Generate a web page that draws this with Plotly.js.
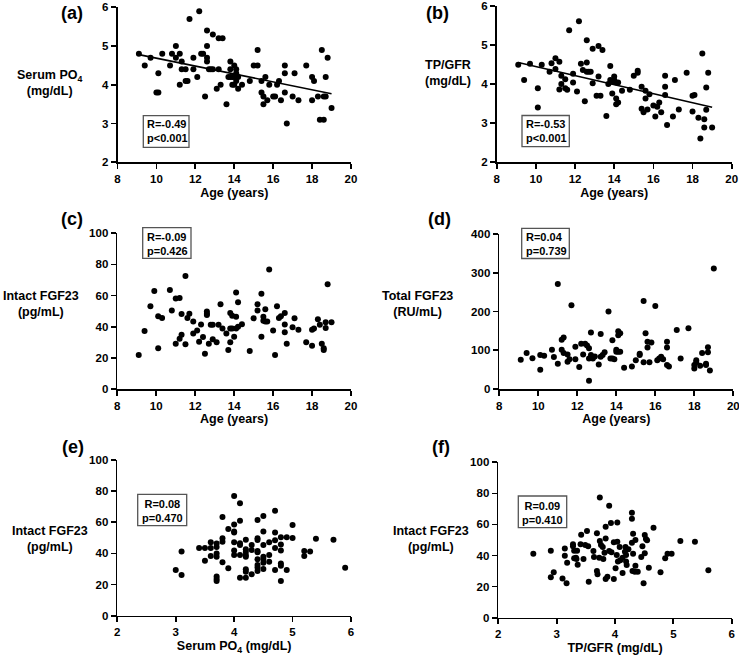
<!DOCTYPE html>
<html>
<head>
<meta charset="utf-8">
<script src="https://cdn.plot.ly/plotly-3.0.1.min.js"></script>
<style>html,body{margin:0;padding:0;background:#fff;}#chart{width:739px;height:656px;}</style>
</head>
<body>
<div id="chart"></div>
<script>
// ---- Data ----
const ageA = [9.1,9.4,9.7,10.0,10.1,10.1,10.3,10.7,10.8,11.0,11.0,11.2,11.2,11.3,11.3,11.5,11.5,11.6,11.7,11.9,11.9,12.1,12.2,12.3,12.4,12.5,12.6,12.6,12.6,12.6,12.7,12.8,12.9,12.9,13.1,13.2,13.2,13.3,13.4,13.6,13.7,13.8,13.8,13.8,13.9,13.9,14.0,14.0,14.0,14.1,14.1,14.1,14.2,14.2,14.4,14.8,15.0,15.2,15.2,15.4,15.4,15.5,15.5,15.6,15.7,15.8,16.0,16.1,16.2,16.3,16.4,16.6,16.6,16.6,16.7,17.0,17.1,17.3,17.7,18.0,18.0,18.1,18.3,18.4,18.5,18.6,18.6,18.7,18.7,18.8,19.0];
const po4A = [4.8,4.5,4.7,3.8,3.8,4.3,4.8,4.5,4.8,5.0,4.7,4.8,4.0,4.6,4.4,4.4,4.1,4.1,5.7,4.7,4.4,4.2,5.9,4.8,4.8,3.7,5.4,5.0,4.7,4.6,4.4,4.4,5.3,4.4,3.9,5.2,4.4,4.0,5.2,3.5,4.2,4.6,4.4,4.2,4.0,4.2,4.5,4.2,4.0,4.4,4.1,4.3,4.2,3.9,4.0,4.1,4.5,4.9,4.5,4.1,3.8,3.7,3.5,4.2,3.6,4.0,3.7,3.7,4.0,4.1,3.6,4.5,4.3,3.8,3.0,3.7,4.3,3.6,4.5,4.2,3.6,4.1,3.7,3.1,4.9,3.1,3.7,3.7,4.2,4.7,3.4];

const ageB = [9.1,9.4,9.7,10.1,10.1,10.3,10.7,10.8,11.0,11.0,11.2,11.2,11.3,11.3,11.5,11.5,11.6,11.7,11.9,11.9,12.1,12.2,12.3,12.4,12.5,12.6,12.6,12.6,12.7,12.8,12.9,12.9,13.1,13.2,13.2,13.3,13.4,13.6,13.7,13.8,13.8,13.9,13.9,14.0,14.0,14.1,14.1,14.1,14.2,14.2,14.4,14.8,15.0,15.2,15.2,15.4,15.4,15.5,15.6,15.6,15.7,15.8,16.0,16.1,16.2,16.3,16.4,16.6,16.6,16.6,16.7,17.0,17.1,17.3,17.7,18.0,18.0,18.1,18.3,18.4,18.5,18.6,18.6,18.7,18.7,18.8,19.0];
const tpB = [4.49,4.10,4.52,3.89,3.40,4.49,4.31,4.53,4.66,4.38,4.57,3.86,4.21,4.00,4.12,3.89,3.85,5.37,4.04,4.26,3.81,5.60,4.52,4.36,3.56,5.12,4.55,4.31,4.31,4.31,4.90,4.02,3.70,4.97,4.19,3.70,4.87,3.18,4.00,4.46,4.10,3.76,4.06,4.19,4.10,3.63,3.48,4.04,3.53,4.04,3.83,3.85,4.21,4.34,4.29,3.93,3.37,3.28,3.83,3.63,3.35,3.74,3.45,3.17,3.42,3.53,3.28,4.21,3.93,3.72,2.95,3.17,4.10,3.35,4.29,3.30,3.70,3.72,3.14,2.61,4.78,3.10,2.89,3.34,3.91,4.29,2.89];

const ageC = [9.1,9.4,9.7,9.9,10.1,10.1,10.3,10.7,10.8,11.0,11.0,11.2,11.2,11.3,11.3,11.5,11.5,11.6,11.7,11.9,11.9,12.1,12.2,12.3,12.4,12.5,12.6,12.6,12.6,12.7,12.8,12.9,12.9,13.1,13.2,13.3,13.4,13.6,13.7,13.8,13.8,13.8,13.9,13.9,14.0,14.1,14.1,14.1,14.2,14.2,14.4,14.8,15.0,15.2,15.2,15.4,15.4,15.5,15.5,15.6,15.6,15.7,15.8,16.0,16.1,16.2,16.3,16.4,16.6,16.6,16.6,16.7,17.0,17.1,17.3,17.7,18.0,18.0,18.1,18.3,18.4,18.5,18.6,18.6,18.7,18.7,18.8,19.0];
const ifgfC = [21.8,37.3,53.1,63.0,26.1,46.7,45.6,63.6,50.4,58.2,29.1,58.5,32.2,48.2,34.9,72.6,28.7,45.6,48.4,43.3,35.6,37.5,30.4,41.5,33.4,22.7,49.7,48.4,47.5,29.1,41.3,41.3,31.9,30.1,41.3,54.4,38.8,35.6,25.1,48.8,38.8,30.1,47.1,38.8,33.6,61.9,46.4,38.8,55.7,40.0,41.6,24.4,45.4,54.4,50.4,61.2,33.6,46.4,43.8,51.2,43.3,43.3,76.7,37.5,21.8,53.1,45.6,46.7,48.8,41.5,36.4,29.1,39.7,45.4,38.1,30.1,38.1,27.8,38.8,44.8,41.3,29.1,26.1,25.0,42.8,39.2,67.2,42.8];

const ageD = [9.1,9.4,9.7,10.1,10.1,10.3,10.7,10.8,11.0,11.0,11.2,11.2,11.3,11.3,11.5,11.5,11.6,11.7,11.9,11.9,12.1,12.2,12.3,12.4,12.5,12.6,12.6,12.6,12.7,12.7,12.8,12.9,13.1,13.2,13.2,13.3,13.4,13.6,13.7,13.8,13.8,13.9,14.0,14.0,14.1,14.1,14.1,14.2,14.2,14.4,14.8,15.0,15.2,15.2,15.4,15.4,15.5,15.6,15.6,15.7,15.8,16.0,16.1,16.2,16.3,16.4,16.6,16.6,16.6,16.7,17.1,17.3,17.7,18.0,18.0,18.1,18.1,18.3,18.4,18.6,18.6,18.7,18.7,18.8,19.0];
const tfgfD = [75.7,92.9,79.1,87.7,49.9,86.0,101.5,82.6,271,65.4,101.5,127,133,93,89,70.5,77,216,109,77,57,117,89,117,112,105,79,21.5,146,88,79,84,63,142,83,88,95,200,79,126,79,77,96,101,149,96,139,144,96,55,58,74,91,88,227,69,144,122,107,69,120,214,74,79,83,77,122,107,62,58,152,79,157,62,53,74,69,60,93,65,62,95,108,48,311];

const po4E = [3.0,3.1,3.1,3.4,3.5,3.5,3.6,3.6,3.6,3.7,3.7,3.7,3.7,3.7,3.7,3.7,3.8,3.8,3.8,3.8,3.9,3.9,4.0,4.0,4.0,4.0,4.0,4.0,4.0,4.1,4.1,4.1,4.1,4.1,4.1,4.2,4.2,4.2,4.2,4.2,4.2,4.2,4.2,4.3,4.3,4.3,4.4,4.4,4.4,4.4,4.4,4.4,4.4,4.4,4.4,4.5,4.5,4.5,4.5,4.5,4.5,4.5,4.6,4.6,4.6,4.7,4.7,4.7,4.7,4.7,4.8,4.8,4.8,4.8,4.8,4.8,4.9,4.9,5.0,5.0,5.2,5.2,5.3,5.4,5.7,5.9];
const ifgfE = [29.3,41.3,26.1,43.5,43.5,35.3,47.1,43.5,38.3,46.3,44.1,40.0,37.9,25.1,23.6,22.3,63.4,49.7,47.5,34.3,55.7,30.4,76.9,58.5,54.0,53.5,47.1,41.8,39.0,72.2,61.0,46.5,45.4,39.0,24.4,48.8,42.6,41.1,39.0,37.9,29.8,28.3,24.4,45.4,42.2,26.6,61.5,49.7,48.6,41.5,40.7,36.2,32.5,31.0,28.7,64.0,54.0,45.4,37.9,36.4,34.0,30.0,47.1,39.0,34.7,67.4,53.5,48.4,43.5,29.3,50.4,45.8,41.8,33.6,32.1,22.3,50.4,29.3,58.2,49.9,41.5,38.3,41.3,49.5,48.8,30.8];

const tpF = [2.60,2.90,2.90,2.95,3.10,3.14,3.14,3.17,3.18,3.28,3.28,3.30,3.30,3.33,3.34,3.35,3.36,3.41,3.42,3.46,3.49,3.52,3.54,3.55,3.63,3.64,3.69,3.69,3.70,3.73,3.74,3.74,3.76,3.79,3.80,3.82,3.84,3.84,3.84,3.87,3.90,3.90,3.93,3.94,3.98,3.98,4.01,4.03,4.04,4.04,4.05,4.08,4.09,4.13,4.13,4.17,4.18,4.19,4.19,4.20,4.23,4.29,4.29,4.29,4.31,4.31,4.30,4.34,4.35,4.35,4.39,4.45,4.47,4.49,4.51,4.51,4.53,4.55,4.58,4.66,4.78,4.86,4.90,4.97,5.12,5.37,5.60];
const ifgfF = [41.2,43.1,26.0,29.2,25.3,44.6,39.9,22.1,35.4,47.2,45.9,43.1,38.2,38.6,37.8,43.1,34.1,47.2,53.4,37.8,46.8,55.8,45.9,23.2,42.9,39.1,54.3,30.0,27.9,38.6,77.3,49.4,46.8,45.5,37.8,41.8,58.5,51.0,24.9,26.4,72.1,42.9,60.9,42.1,24.9,48.5,31.8,40.4,61.2,48.9,36.1,45.5,37.0,38.6,28.8,42.5,45.5,40.4,36.1,33.9,44.0,67.6,63.7,48.3,54.1,41.2,30.0,29.6,33.5,50.0,29.6,39.1,45.9,22.1,53.2,41.4,50.6,49.8,32.2,57.9,29.2,38.2,41.2,41.2,49.4,48.9,30.5];

const panelLabels = ["(a)","(b)","(c)","(d)","(e)","(f)"];
const xTitles = ["Age (years)","Age (years)","Age (years)","Age (years)","Serum PO<sub>4</sub> (mg/dL)","TP/GFR (mg/dL)"];
const yTitles = ["Serum PO<sub>4</sub><br>(mg/dL)","TP/GFR<br>(mg/dL)","Intact FGF23<br>(pg/mL)","Total FGF23<br>(RU/mL)","Intact FGF23<br>(pg/mL)","Intact FGF23<br>(pg/mL)"];
const statR = ["R=-0.49","R=-0.53","R=-0.09","R=0.04","R=0.08","R=0.09"];
const statP = ["p<0.001","p<0.001","p=0.426","p=0.739","p=0.470","p=0.410"];

// ---- Layout helpers ----
const W = 739, H = 656;
const fx = v => v / W;
const fy = v => 1 - v / H;
const FONT = "Liberation Sans, Arial, Helvetica, sans-serif";
const bold = (size) => ({family: FONT, size: size, color: "#000", weight: "bold"});

function linfit(x, y) {
  const n = x.length;
  const mx = x.reduce((a,b)=>a+b,0)/n, my = y.reduce((a,b)=>a+b,0)/n;
  let sxy = 0, sxx = 0;
  for (let i = 0; i < n; i++) { sxy += (x[i]-mx)*(y[i]-my); sxx += (x[i]-mx)*(x[i]-mx); }
  const b = sxy / sxx, a = my - b*mx;
  const x0 = Math.min(...x), x1 = Math.max(...x);
  return {x: [x0, x1], y: [a + b*x0, a + b*x1]};
}

const series = [
  [ageA, po4A], [ageB, tpB], [ageC, ifgfC], [ageD, tfgfD], [po4E, ifgfE], [tpF, ifgfF]
];

// pixel geometry for each panel: [xLeft, xRight, yTop, yBottom]
const geo = [
  [117.5, 351.0, 7.3, 162.3],
  [496.7, 731.7, 5.7, 162.3],
  [117.3, 351.0, 233.3, 389.0],
  [499.3, 733.3, 234.0, 389.0],
  [117.3, 351.0, 460.0, 615.7],
  [498.3, 731.7, 462.3, 617.7]
];
const xRanges = [[8,20],[8,20],[8,20],[8,20],[2,6],[2,6]];
const yRanges = [[2,6],[2,6],[0,100],[0,400],[0,100],[0,100]];
const xDt = [2,2,2,2,1,1];
const yDt = [1,1,20,100,20,20];
const EPS = 1e-6;

const traces = [];
const layout = {
  width: W, height: H,
  margin: {l:0, r:0, t:0, b:0},
  paper_bgcolor: "#fff", plot_bgcolor: "rgba(0,0,0,0)",
  showlegend: false,
  font: bold(11),
  annotations: [], shapes: []
};

series.forEach((s, i) => {
  const k = i === 0 ? "" : String(i+1);
  traces.push({
    type: "scatter", mode: "markers", x: s[0], y: s[1],
    xaxis: "x"+k, yaxis: "y"+k,
    marker: {color: "#000", size: 6}, cliponaxis: false, hoverinfo: "skip"
  });
  if (i < 2) {
    const f = linfit(s[0], s[1]);
    traces.push({type:"scatter", mode:"lines", x: f.x, y: f.y, xaxis:"x"+k, yaxis:"y"+k,
      line:{color:"#000", width:1.6}, hoverinfo:"skip"});
  }
  const g = geo[i];
  const xr = xRanges[i], yr = yRanges[i];
  const axCommon = {
    showgrid:false, zeroline:false, showline:true, linecolor:"#000", linewidth:1.7,
    ticks:"outside", ticklen:5, tickwidth:1.7, tickcolor:"#000",
    tickfont: bold(11.5), automargin:false, fixedrange:true,
    ticklabeloverflow:"allow"
  };
  layout["xaxis"+k] = Object.assign({}, axCommon, {
    domain:[fx(g[0]), fx(g[1])], range:[xr[0]-EPS*(xr[1]-xr[0]), xr[1]+EPS*(xr[1]-xr[0])],
    dtick:xDt[i], tick0:0, anchor:"y"+k,
    title:{text:xTitles[i], font:bold(12.5), standoff:4}
  });
  layout["yaxis"+k] = Object.assign({}, axCommon, {
    domain:[fy(g[3]), fy(g[2])], range:[yr[0]-EPS*(yr[1]-yr[0]), yr[1]+EPS*(yr[1]-yr[0])],
    dtick:yDt[i], tick0:0, anchor:"x"+k
  });
});

// panel labels
const labPos = [[72,13],[437,13],[72,219],[440,219],[73,447],[441,447]];
labPos.forEach((p,i) => layout.annotations.push({
  xref:"paper", yref:"paper", x:fx(p[0]), y:fy(p[1]), xanchor:"center", yanchor:"middle",
  text:panelLabels[i], showarrow:false, font:bold(18)
}));

// y titles (horizontal)
const ytPos = [[49,83],[448,73],[40.5,304],[417,304],[50,539],[431,539]];
ytPos.forEach((p,i) => layout.annotations.push({
  xref:"paper", yref:"paper", x:fx(p[0]), y:fy(p[1]), xanchor:"center", yanchor:"middle",
  text:yTitles[i], showarrow:false, font:bold(12.5), align:"center"
}));

// stat boxes: [x0,y0,x1,y1, textX, textCenterY, align]
const boxes = [
  [143.3,115.7,189.0,147.3, 146.0,131.2,"left"],
  [522.0,115.5,569.3,146.7, 525.0,131.2,"left"],
  [142.7,227.7,191.0,258.3, 145.7,243.7,"left"],
  [521.7,228.3,569.3,258.5, 525.0,244.0,"left"],
  [137.7,494.3,186.7,525.7, 162.2,510.8,"center"],
  [518.3,496.0,566.7,527.7, 542.5,513.2,"center"]
];
boxes.forEach((b,i) => {
  layout.shapes.push({type:"rect", xref:"paper", yref:"paper",
    x0:fx(b[0]), x1:fx(b[2]), y0:fy(b[3]), y1:fy(b[1]),
    line:{color:"#555", width:1.3}, fillcolor:"rgba(0,0,0,0)"});
  layout.annotations.push({
    xref:"paper", yref:"paper", x:fx(b[4]), y:fy(b[5]),
    xanchor: b[6] === "left" ? "left" : "center", yanchor:"middle",
    text: statR[i] + "<br>" + statP[i], align: b[6],
    showarrow:false, font:bold(11), borderpad:0
  });
});

Plotly.newPlot("chart", traces, layout, {staticPlot:true, displayModeBar:false});
</script>
</body>
</html>
